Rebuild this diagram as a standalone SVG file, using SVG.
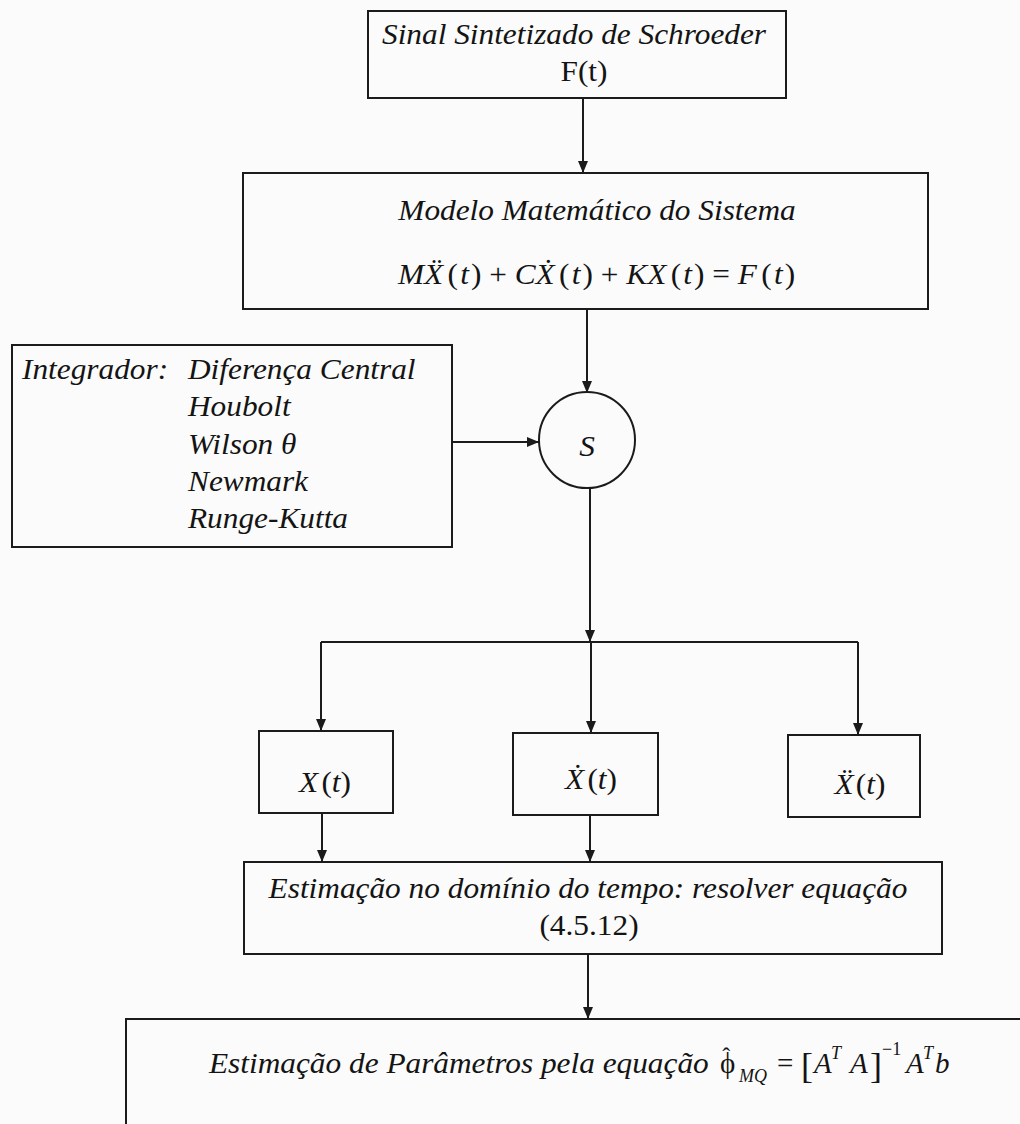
<svg xmlns="http://www.w3.org/2000/svg" width="1020" height="1124" viewBox="0 0 1020 1124">
  <style>
    .box { fill: none; stroke: #1b1b1b; stroke-width: 2; }
    .wire { fill: none; stroke: #1b1b1b; stroke-width: 2; }
    .arr { marker-end: url(#head); }
    .t { font-family: "Liberation Serif", "Times New Roman", "DejaVu Serif", serif; font-size: 29px; font-style: italic; fill: #141414; }
    .rm { font-style: normal; }
    .sm { font-size: 18px; }
    .mid { text-anchor: middle; }
  </style>
  <defs>
    <marker id="head" viewBox="0 0 12 10" markerWidth="12" markerHeight="10" refX="12" refY="5" orient="auto" markerUnits="userSpaceOnUse">
      <path d="M0,0 L12,5 L0,10 z" fill="#1b1b1b"/>
    </marker>
  </defs>
  <rect width="1020" height="1124" fill="#fbfbfb"/>

  <!-- connectors -->
  <g id="connectors">
    <line class="wire arr" x1="583" y1="98" x2="583" y2="173"/>
    <line class="wire arr" x1="587" y1="309" x2="587" y2="393"/>
    <line class="wire arr" x1="452" y1="442" x2="539" y2="442"/>
    <line class="wire arr" x1="590" y1="487" x2="590" y2="642"/>
    <line class="wire" x1="321" y1="642" x2="858" y2="642"/>
    <line class="wire arr" x1="321" y1="642" x2="321" y2="731"/>
    <line class="wire arr" x1="591" y1="642" x2="591" y2="733"/>
    <line class="wire arr" x1="858" y1="642" x2="858" y2="735"/>
    <line class="wire arr" x1="322" y1="813" x2="322" y2="862"/>
    <line class="wire arr" x1="590" y1="815" x2="590" y2="862"/>
    <line class="wire arr" x1="588" y1="954" x2="588" y2="1019"/>
  </g>

  <!-- signal source -->
  <g id="sinal">
    <rect class="box" x="368" y="11" width="418" height="87"/>
    <text class="t mid" transform="translate(574 0) scale(1.08 1)" x="0" y="44">Sinal Sintetizado de Schroeder</text>
    <text class="t rm mid" transform="translate(584 0) scale(1.08 1)" x="0" y="81">F(t)</text>
  </g>

  <!-- system model -->
  <g id="modelo">
    <rect class="box" x="243" y="173" width="685" height="136"/>
    <text class="t mid" transform="translate(597 0) scale(1.08 1)" x="0" y="220">Modelo Matemático do Sistema</text>
    <text class="t" transform="translate(398 0) scale(1.08 1)" x="0" y="284">MẌ<tspan class="rm" dx="4">(</tspan><tspan dx="2">t</tspan><tspan class="rm" dx="2">) + </tspan>CẊ<tspan class="rm" dx="4">(</tspan><tspan dx="2">t</tspan><tspan class="rm" dx="2">) + </tspan>KX<tspan class="rm" dx="4">(</tspan><tspan dx="2">t</tspan><tspan class="rm" dx="2">) = </tspan>F<tspan class="rm" dx="4">(</tspan><tspan dx="2">t</tspan><tspan class="rm" dx="2">)</tspan></text>
  </g>

  <!-- integrators -->
  <g id="integrador">
    <rect class="box" x="12" y="345" width="440" height="202"/>
    <text class="t" transform="translate(22 0) scale(1.08 1)" x="0" y="379">Integrador:</text>
    <g transform="translate(188 0) scale(1.08 1)">
      <text class="t" x="0" y="379">Diferença Central</text>
      <text class="t" x="0" y="416">Houbolt</text>
      <text class="t" x="0" y="454">Wilson θ</text>
      <text class="t" x="0" y="491">Newmark</text>
      <text class="t" x="0" y="528">Runge-Kutta</text>
    </g>
  </g>

  <!-- summing node -->
  <g id="soma">
    <circle class="box" cx="587" cy="440" r="48"/>
    <text class="t mid" transform="translate(587 0) scale(1.08 1)" x="0" y="456">S</text>
  </g>

  <!-- response outputs -->
  <g id="desloc">
    <rect class="box" x="259" y="731" width="134" height="82"/>
    <text class="t mid" transform="translate(325 0) scale(1.08 1)" x="0" y="792">X<tspan class="rm" dx="3">(</tspan>t<tspan class="rm">)</tspan></text>
  </g>
  <g id="veloc">
    <rect class="box" x="513" y="733" width="145" height="82"/>
    <text class="t mid" transform="translate(591 0) scale(1.08 1)" x="0" y="789">Ẋ<tspan class="rm" dx="3">(</tspan>t<tspan class="rm">)</tspan></text>
  </g>
  <g id="acel">
    <rect class="box" x="788" y="735" width="132" height="82"/>
    <text class="t mid" transform="translate(860 0) scale(1.08 1)" x="0" y="794">Ẍ<tspan class="rm" dx="2">(</tspan>t<tspan class="rm">)</tspan></text>
  </g>

  <!-- time-domain estimation -->
  <g id="estimacao-tempo">
    <rect class="box" x="244" y="862" width="698" height="92"/>
    <text class="t mid" transform="translate(588 0) scale(1.08 1)" x="0" y="898">Estimação no domínio do tempo: resolver equação</text>
    <text class="t rm mid" transform="translate(589 0) scale(1.08 1)" x="0" y="935">(4.5.12)</text>
  </g>

  <!-- parameter estimation: least-squares estimator with a hatted phi -->
  <g id="estimacao-parametros">
    <rect class="box" x="126" y="1019" width="920" height="130"/>
    <text class="t" transform="translate(209 0) scale(1.08 1)" x="0" y="1073">Estimação de Parâmetros pela equação</text>
    <text class="t rm" x="720" y="1073">ϕ<tspan dx="-13" dy="-9" style="font-size:24px">ˆ</tspan></text>
    <text class="t sm" x="739" y="1082">MQ</text>
    <text class="t rm" x="777" y="1073">=</text>
    <text class="t rm" x="801" y="1078" style="font-size:36px">[</text>
    <text class="t" x="814" y="1073">A</text>
    <text class="t sm" x="831" y="1059">T</text>
    <text class="t" x="850" y="1073">A</text>
    <text class="t rm" x="870" y="1078" style="font-size:36px">]</text>
    <text class="t rm sm" x="882" y="1055">−1</text>
    <text class="t" x="906" y="1073">A</text>
    <text class="t sm" x="923" y="1059">T</text>
    <text class="t" x="935" y="1073">b</text>
  </g>
</svg>
